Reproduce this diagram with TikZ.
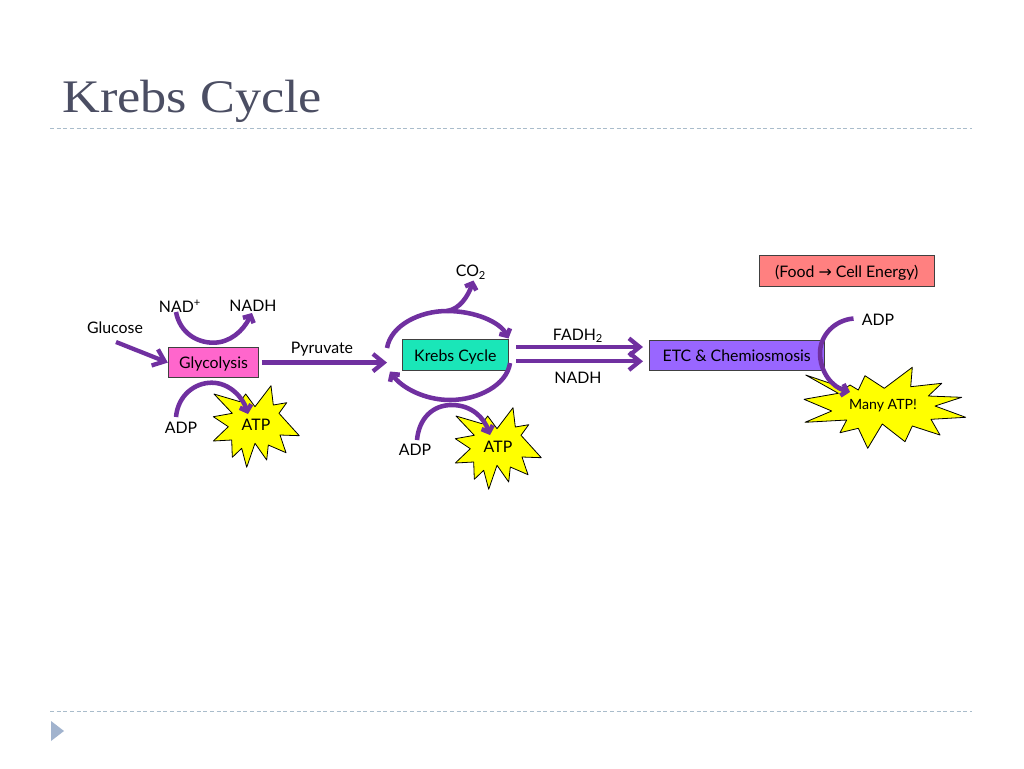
\documentclass[tikz,border=0pt]{standalone}
\usepackage{fontspec}
\setmainfont{Lato}
\newfontfamily\titlefont[FakeStretch=1.12]{Liberation Serif}
\newfontfamily\symfont{DejaVu Sans}
\usetikzlibrary{arrows.meta}
\definecolor{flowc}{HTML}{7030A0}
\definecolor{rulec}{HTML}{A9BCCB}
\definecolor{titlec}{HTML}{4B4E63}
\definecolor{starc}{HTML}{FFFF00}
\definecolor{glyc}{HTML}{FF66CC}
\definecolor{krebc}{HTML}{1AE6B8}
\definecolor{etcc}{HTML}{9966FF}
\definecolor{foodc}{HTML}{FF8080}
\tikzset{
  flow/.style={draw=flowc,line width=3.2pt,-{Straight Barb[length=8pt,width=13pt,line width=3.2pt]}},
  arc/.style={draw=flowc,line width=3.4pt,-{Straight Barb[length=4pt,width=9pt,line width=3.4pt]}},
  box/.style={draw=black!75,line width=0.7pt,inner sep=0pt,text height=10pt,text depth=1pt,font=\fontsize{11.9}{13}\selectfont},
  lab/.style={inner sep=0pt,font=\fontsize{11.9}{13}\selectfont},
  burst/.style={draw=black,line width=0.6pt,fill=starc,line join=round},
  rule/.style={draw=rulec,line width=0.6pt,dash pattern=on 3pt off 2pt}
}
\newcommand{\smallburst}[2]{%
  \draw[burst,shift={(#1,#2)}] (214,394) -- (240,401.7) -- (245.7,394) -- (255,406.7) -- (271,385.7) -- (273.3,405) -- (286.7,402.7) -- (279,413.3) -- (299.3,435.7) -- (280,435) -- (286,452.7) -- (268.3,445) -- (266.7,460) -- (255,443.3) -- (246.7,467.3) -- (241.7,448.3) -- (232.3,457.3) -- (231.7,440) -- (213.3,441) -- (228.3,426.7) -- (213.3,416.7) -- (232.3,413.3) -- cycle;}
\begin{document}
\begin{tikzpicture}[x=0.75pt,y=-0.75pt]
\useasboundingbox[fill=white] (0,0) rectangle (1024,768);
% title and rules
\node[anchor=base west,inner sep=0pt,text=titlec,font=\titlefont\fontsize{35}{40}\selectfont] (title) at (62,112) {Krebs Cycle};
\coordinate (ruleAa) at (50,128); \coordinate (ruleAb) at (972,128);
\coordinate (ruleBa) at (50,711.5); \coordinate (ruleBb) at (972,711.5);
\draw[rule] (ruleAa) -- (ruleAb);
\draw[rule] (ruleBa) -- (ruleBb);
\fill[fill=rulec!95!blue] (51,721) -- (64,731) -- (51,741) -- cycle;
% bursts
\smallburst{0}{0}
\smallburst{242}{22}
\draw[burst] (805.7,375) -- (845,388.3) -- (850,385) -- (858.3,390) -- (865,375.7) -- (884.3,388.3) -- (912.3,367.3) -- (910.7,386.7) -- (941.7,383.3) -- (928.3,396) -- (961.7,397.3) -- (935,406) -- (965.7,417.3) -- (931,419.3) -- (940,435) -- (912.3,426) -- (905,441.7) -- (882.3,424) -- (867.7,448.3) -- (858.3,428.3) -- (840,432.7) -- (846.7,420) -- (805,422.3) -- (831.7,411) -- (804,399.3) -- (838.3,393.3) -- cycle;
% boxes
\node[box,fill=glyc,minimum width=67.8pt,minimum height=23pt] (glyco) at (213.5,362.6) {Glycolysis};
\node[box,fill=krebc,minimum width=79.5pt,minimum height=23.5pt] (krebs) at (455.3,355) {Krebs Cycle};
\node[box,fill=etcc,minimum width=131pt,minimum height=23pt] (etc) at (736.7,355.3) {ETC \& Chemiosmosis};
\node[box,fill=foodc,minimum width=131pt,minimum height=23.3pt] (food) at (846.7,271.2) {(Food {\symfont\fontsize{11.9}{13}\selectfont →} Cell Energy)};
% labels
\node[lab] (glucose) at (115,328) {Glucose};
\node[lab] (nadp) at (180,306) {NAD\textsuperscript{+}};
\node[lab] (nadh) at (253,306) {NADH};
\node[lab] (pyr) at (322,349) {Pyruvate};
\node[lab] (adpa) at (181,428) {ADP};
\node[lab] (atpa) at (256,425) {ATP};
\node[lab] (adpb) at (415,450) {ADP};
\node[lab] (atpb) at (498,447) {ATP};
\node[lab] (co) at (471,272) {CO\textsubscript{2}};
\node[lab] (fadh) at (578,336) {FADH\textsubscript{2}};
\node[lab] (nadhb) at (578,378) {NADH};
\node[lab] (adpc) at (878,320) {ADP};
\node[lab,font=\fontsize{10.6}{12}\selectfont] (many) at (883,406) {Many ATP!};
% connector ends
\coordinate (gluS) at (116,342);
\coordinate (pyrE) at (387,362.6);
\coordinate (fadS) at (516,347); \coordinate (fadE) at (643,347);
\coordinate (nadS) at (516,361.3); \coordinate (nadE) at (643,361.3);
\coordinate (nadaS) at (176,312); \coordinate (nadaB) at (213.3,342.7); \coordinate (nadaE) at (252,313);
\coordinate (adpaS) at (176,417); \coordinate (adpaT) at (211.7,382.7); \coordinate (adpaE) at (248,414);
\coordinate (cycUS) at (387,348); \coordinate (cycUT) at (447,311); \coordinate (cycUE) at (508.5,338.5);
\coordinate (cycLS) at (510,363); \coordinate (cycLB) at (450,400); \coordinate (cycLE) at (390,371.5);
\coordinate (coE) at (473.5,280.5);
\coordinate (adpbS) at (417,440); \coordinate (adpbT) at (451.7,405); \coordinate (adpbE) at (490,435);
\coordinate (adpcS) at (853.5,318.5); \coordinate (adpcL) at (820,353); \coordinate (adpcE) at (850,392);
% connectors
\draw[flow] (gluS) -- (glyco.west);
\draw[flow,shorten <=2pt] (glyco.east) -- (pyrE);
\draw[flow] (fadS) -- (fadE);
\draw[flow] (nadS) -- (nadE);
\draw[arc] (nadaS) .. controls (180,333) and (197,342.7) .. (nadaB) .. controls (230,342.7) and (243,331) .. (nadaE);
\draw[arc] (adpaS) .. controls (178,395) and (195,382.7) .. (adpaT) .. controls (230,382.7) and (243,398) .. (adpaE);
\draw[arc] (cycUS) .. controls (391,325) and (420,311) .. (cycUT) .. controls (475,311) and (500,322) .. (cycUE);
\draw[arc] (cycLS) .. controls (507,385) and (478,400) .. (cycLB) .. controls (425,400) and (402,388) .. (cycLE);
\draw[arc] (cycUT) .. controls (460,309) and (468,296) .. (coE);
\draw[arc] (adpbS) .. controls (419,418) and (433,405) .. (adpbT) .. controls (472,405) and (484,418) .. (adpbE);
\draw[arc] (adpcS) .. controls (835,320) and (820,335) .. (adpcL) .. controls (820,372) and (832,387) .. (adpcE);
\end{tikzpicture}
\end{document}
